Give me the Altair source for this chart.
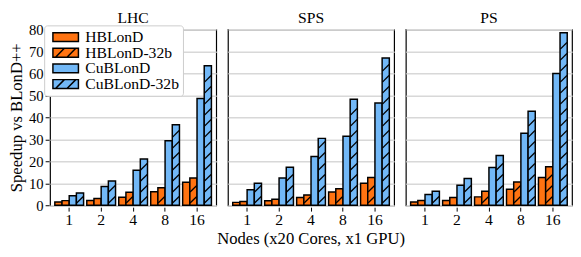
import altair as alt
import pandas as pd

machines = ["LHC", "SPS", "PS"]
nodes = ["1", "2", "4", "8", "16"]
series_order = ["HBLonD", "HBLonD-32b", "CuBLonD", "CuBLonD-32b"]
hatched = ["HBLonD-32b", "CuBLonD-32b"]
colors = ["#ff7311", "#ff7311", "#72b8f7", "#72b8f7"]
y_ticks = [0, 10, 20, 30, 40, 50, 60, 70, 80]

lhc_hb = [1.5, 2.2, 3.6, 6.1, 10.5]
lhc_hb32 = [2.1, 3.1, 5.9, 8.0, 12.4]
lhc_cu = [4.3, 8.5, 15.9, 29.3, 48.5]
lhc_cu32 = [5.6, 11.0, 21.0, 36.6, 63.4]

sps_hb = [1.3, 2.0, 3.5, 6.0, 10.0]
sps_hb32 = [1.7, 2.7, 4.7, 7.5, 12.6]
sps_cu = [7.0, 12.4, 22.2, 31.4, 46.5]
sps_cu32 = [10.0, 17.3, 30.4, 48.2, 66.9]

ps_hb = [1.5, 2.2, 3.8, 7.3, 12.6]
ps_hb32 = [2.2, 3.5, 6.4, 10.6, 17.5]
ps_cu = [4.9, 9.1, 17.2, 32.7, 59.9]
ps_cu32 = [6.4, 12.2, 22.6, 42.7, 78.4]

table = {
    "LHC": [lhc_hb, lhc_hb32, lhc_cu, lhc_cu32],
    "SPS": [sps_hb, sps_hb32, sps_cu, sps_cu32],
    "PS": [ps_hb, ps_hb32, ps_cu, ps_cu32],
}

HATCH_STEP = 5.0
rows = []
for m in machines:
    for s, vals in zip(series_order, table[m]):
        for n, v in zip(nodes, vals):
            rows.append(dict(machine=m, nodes=n, series=s, value=v, kind="bar"))
            if s in hatched:
                h = HATCH_STEP / 2
                while h <= v - 1.2:
                    rows.append(dict(machine=m, nodes=n, series=s, value=h, kind="hatch"))
                    h += HATCH_STEP
df = pd.DataFrame(rows)

# legend symbols: rectangle, with diagonal hatch strokes for the 32b variants
rect = "M-2.9,-1H2.9V1H-2.9Z"
hatch_lines = " M-2.3,1L-0.3,-1 M0.3,1L2.3,-1"
shapes = [rect, rect + hatch_lines, rect, rect + hatch_lines]

FONT = "Liberation Serif"

x_enc = alt.X("nodes:N", sort=nodes,
              scale=alt.Scale(paddingInner=0.1, paddingOuter=0.15),
              axis=alt.Axis(title=None, labelAngle=0, labelFontSize=16,
                            ticks=True, tickSize=4, labelPadding=1))
xoff = alt.XOffset("series:N", sort=series_order,
                   scale=alt.Scale(domain=series_order, paddingInner=0, paddingOuter=0))
y_axis = alt.Axis(title="Speedup vs BLonD++", values=y_ticks, tickCount=9,
                  titleFontSize=17, labelFontSize=15, titlePadding=3,
                  tickSize=4, labelPadding=2, labelOverlap=False)
y_enc = alt.Y("value:Q", scale=alt.Scale(domain=[0, 80], nice=False), axis=y_axis)
fill_scale = alt.Scale(domain=series_order, range=colors)

bars = alt.Chart().mark_bar(stroke="black", strokeWidth=1.5).encode(
    x=x_enc, xOffset=xoff, y=y_enc,
    fill=alt.Fill("series:N", scale=fill_scale, legend=alt.Legend(title=None)),
).transform_filter('datum.kind == "bar"')

hatch = alt.Chart().mark_point(shape="M-1,1L1,-1", size=46, stroke="black",
                                strokeWidth=1.3, filled=False, opacity=1).encode(
    x=x_enc, xOffset=xoff, y=y_enc,
).transform_filter('datum.kind == "hatch"')

leg = alt.Chart().mark_point(filled=True, opacity=1, stroke="black", strokeWidth=1.5).encode(
    fill=alt.Fill("series:N", scale=fill_scale, legend=alt.Legend(title=None)),
    shape=alt.Shape("series:N", scale=alt.Scale(domain=series_order, range=shapes),
                    legend=alt.Legend(title=None)),
).transform_filter("datum.value < 0")

layered = alt.layer(bars, hatch, leg, data=df).properties(width=170, height=180)

chart = layered.facet(
    column=alt.Column("machine:N", sort=machines, title="Nodes (x20 Cores, x1 GPU)",
                      header=alt.Header(labelOrient="top", titleOrient="bottom",
                                        labelFontSize=16, titleFontSize=17,
                                        titleFontWeight="normal", labelPadding=2,
                                        titlePadding=-6, labelFont=FONT, titleFont=FONT)),
    spacing=10,
).configure(
    font=FONT,
    padding={"left": 0, "top": 0, "right": 0, "bottom": 0},
).configure_view(
    stroke="black", strokeWidth=1.2,
).configure_axis(
    domain=False, labelFont=FONT, titleFont=FONT, labelColor="black", titleColor="black",
    tickColor="black", titleFontWeight="normal",
).configure_axisX(grid=False).configure_axisY(
    grid=True, gridColor="#d8d8d8", gridWidth=1.5,
).configure_legend(
    orient="none", legendX=-6, legendY=-4,
    labelFont=FONT, labelFontSize=16, labelColor="black",
    symbolSize=81, symbolOffset=10, labelOffset=12, symbolStrokeColor="black",
    symbolStrokeWidth=1.5, rowPadding=0, padding=4,
    fillColor="white", strokeColor="#cccccc", cornerRadius=3,
)

chart.save("out.html", embed_options={"renderer": "svg", "actions": False})
